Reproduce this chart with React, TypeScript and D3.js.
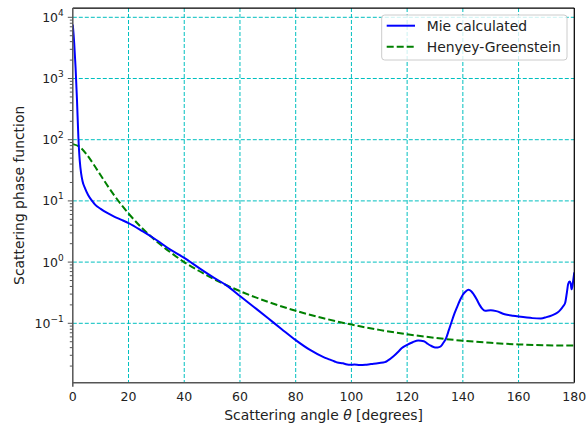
import React from "react";
import * as d3 from "d3";

// Mie calculated phase function
const mieTheta = [0, 0.5, 1, 1.5, 2, 2.5, 3, 3.5, 4.4, 5.5, 6.8, 8, 10, 12.5, 15, 17.5, 20, 25, 30, 35, 40, 45, 50, 55, 60, 65, 70, 75, 80, 85, 90, 92, 94, 95, 97, 98, 100, 101, 103, 105, 107, 108, 110, 112, 113, 115, 117, 118, 120, 122, 124, 126, 127, 128.5, 130, 131, 132, 133, 134, 135, 136, 137, 138, 139, 140, 141, 142, 143, 144, 145, 146, 147, 148, 150, 152, 155, 158, 160, 163, 165, 168, 170, 172, 174, 175, 176, 176.7, 177.3, 177.8, 178.3, 178.7, 179, 179.3, 179.6, 180];
const mieValue = [7600, 3800, 1500, 450, 110, 45, 28, 21, 16, 12.5, 10.2, 8.7, 7.4, 6.3, 5.5, 4.9, 4.34, 3.2, 2.3, 1.6, 1.17, 0.82, 0.58, 0.42, 0.28, 0.185, 0.122, 0.08, 0.053, 0.037, 0.028, 0.0258, 0.0238, 0.0228, 0.0222, 0.0215, 0.021, 0.0212, 0.0208, 0.021, 0.0216, 0.0218, 0.0224, 0.0232, 0.0245, 0.0287, 0.035, 0.039, 0.0445, 0.049, 0.0524, 0.051, 0.0475, 0.043, 0.0404, 0.0402, 0.0417, 0.048, 0.0573, 0.078, 0.107, 0.145, 0.188, 0.24, 0.292, 0.33, 0.353, 0.335, 0.292, 0.245, 0.2, 0.172, 0.16, 0.163, 0.158, 0.141, 0.133, 0.129, 0.124, 0.1215, 0.12, 0.126, 0.135, 0.15, 0.166, 0.19, 0.214, 0.31, 0.44, 0.48, 0.45, 0.36, 0.4, 0.5, 0.68];

// Henyey-Greenstein phase function
const hgTheta = [0, 2.5, 5, 7.5, 10, 12.5, 15, 20, 25, 30, 35, 40, 45, 50, 55, 60, 70, 80, 90, 100, 110, 120, 130, 140, 150, 160, 170, 180];
const hgValue = [84.6, 76.0, 57.3, 39.3, 26.2, 17.6, 12.1, 6.23, 3.54, 2.19, 1.45, 1.0, 0.729, 0.547, 0.423, 0.3355, 0.2243, 0.1603, 0.1209, 0.0954, 0.0781, 0.0662, 0.0578, 0.0519, 0.0479, 0.0452, 0.0436, 0.0432];

const xTicks = [0, 20, 40, 60, 80, 100, 120, 140, 160, 180];
const yDecades = [-1, 0, 1, 2, 3, 4];
const seriesNames = ["Mie calculated", "Henyey-Greenstein"];

const W = 587, H = 427;
const L = 72.8, R = 574.3, T = 8, B = 382.7;
const FONT = "DejaVu Sans, sans-serif";
const TICK_FS = 12.5;
const LABEL_FS = 13.9;

export default function App() {
  const x = d3.scaleLinear().domain([0, 180]).range([L, R]);
  const y = d3.scaleLog().domain([Math.pow(10, -1.9706), Math.pow(10, 4.152)]).range([B, T]);

  const mieLine = d3.line<number>().x((_, i) => x(mieTheta[i])).y((v) => y(v)).curve(d3.curveMonotoneX);
  const hgLine = d3.line<number>().x((_, i) => x(hgTheta[i])).y((v) => y(v)).curve(d3.curveMonotoneX);

  const [yMin, yMax] = y.domain();
  const minor: number[] = [];
  for (let e = -2; e <= 4; e++) {
    for (let m = 2; m <= 9; m++) {
      const v = m * Math.pow(10, e);
      if (v >= yMin && v <= yMax) minor.push(v);
    }
  }

  const gridColor = "#00bfbf";
  const spineGray = "#555555";

  return (
    <svg width={W} height={H} style={{ position: "absolute", left: 0, top: 0, background: "#fff" }} fontFamily={FONT}>
      <rect x={0} y={0} width={W} height={H} fill="#fff" />
      <defs>
        <clipPath id="plot">
          <rect x={L} y={T} width={R - L} height={B - T} />
        </clipPath>
      </defs>
      {/* grid */}
      <g stroke={gridColor} strokeWidth={1} strokeDasharray="4,2" fill="none">
        {xTicks.slice(1, -1).map((t) => (
          <line key={"gx" + t} x1={x(t)} x2={x(t)} y1={T} y2={B} />
        ))}
        {yDecades.map((e) => (
          <line key={"gy" + e} x1={L} x2={R} y1={y(Math.pow(10, e))} y2={y(Math.pow(10, e))} />
        ))}
      </g>
      {/* curves */}
      <g clipPath="url(#plot)" fill="none">
        <path d={hgLine(hgValue) || ""} stroke="#008000" strokeWidth={2} strokeDasharray="7,3" />
        <path d={mieLine(mieValue) || ""} stroke="#0000ff" strokeWidth={2} />
      </g>
      {/* spines */}
      <line x1={L} x2={R} y1={T} y2={T} stroke="#000" strokeWidth={1.25} />
      <line x1={R} x2={R} y1={T} y2={B} stroke="#000" strokeWidth={1.25} />
      <line x1={L} x2={L} y1={T} y2={B + 4} stroke={spineGray} strokeWidth={1.5} />
      <line x1={L} x2={R} y1={B} y2={B} stroke={spineGray} strokeWidth={1.5} />
      {/* y ticks */}
      <g stroke={spineGray} strokeWidth={1}>
        {yDecades.map((e) => (
          <line key={"ty" + e} x1={L - 5} x2={L} y1={y(Math.pow(10, e))} y2={y(Math.pow(10, e))} />
        ))}
        {minor.map((v, i) => (
          <line key={"tm" + i} x1={L - 3} x2={L} y1={y(v)} y2={y(v)} />
        ))}
      </g>
      {/* y tick labels */}
      <g fontSize={TICK_FS} fill="#222">
        {yDecades.map((e) => (
          <text key={"ly" + e} x={L - 9} y={y(Math.pow(10, e)) + 4.5} textAnchor="end">
            <tspan>10</tspan>
            <tspan dy={-6} fontSize={9}>{e < 0 ? "\u2212" + Math.abs(e) : String(e)}</tspan>
          </text>
        ))}
      </g>
      {/* x tick labels */}
      <g fontSize={TICK_FS} fill="#222" textAnchor="middle">
        {xTicks.map((t) => (
          <text key={"lx" + t} x={x(t)} y={B + 18.5}>{t}</text>
        ))}
      </g>
      {/* axis labels */}
      <text x={(L + R) / 2} y={420} fontSize={LABEL_FS} textAnchor="middle" fill="#222">
        Scattering angle <tspan fontStyle="italic">θ</tspan> [degrees]
      </text>
      <text transform={`translate(23.5,${(T + B) / 2}) rotate(-90)`} fontSize={LABEL_FS} textAnchor="middle" fill="#222">
        Scattering phase function
      </text>
      {/* legend */}
      <g>
        <rect x={381.7} y={15} width={185.3} height={45} rx={3} fill="#fff" fillOpacity={0.8} stroke="#cccccc" strokeWidth={1} />
        <line x1={386.7} x2={415} y1={25.7} y2={25.7} stroke="#0000ff" strokeWidth={2} />
        <line x1={386.7} x2={415} y1={46.7} y2={46.7} stroke="#008000" strokeWidth={2} strokeDasharray="7,3" />
        <text x={426.7} y={30.7} fontSize={LABEL_FS} fill="#222">{seriesNames[0]}</text>
        <text x={426.7} y={51.7} fontSize={LABEL_FS} fill="#222">{seriesNames[1]}</text>
      </g>
    </svg>
  );
}
